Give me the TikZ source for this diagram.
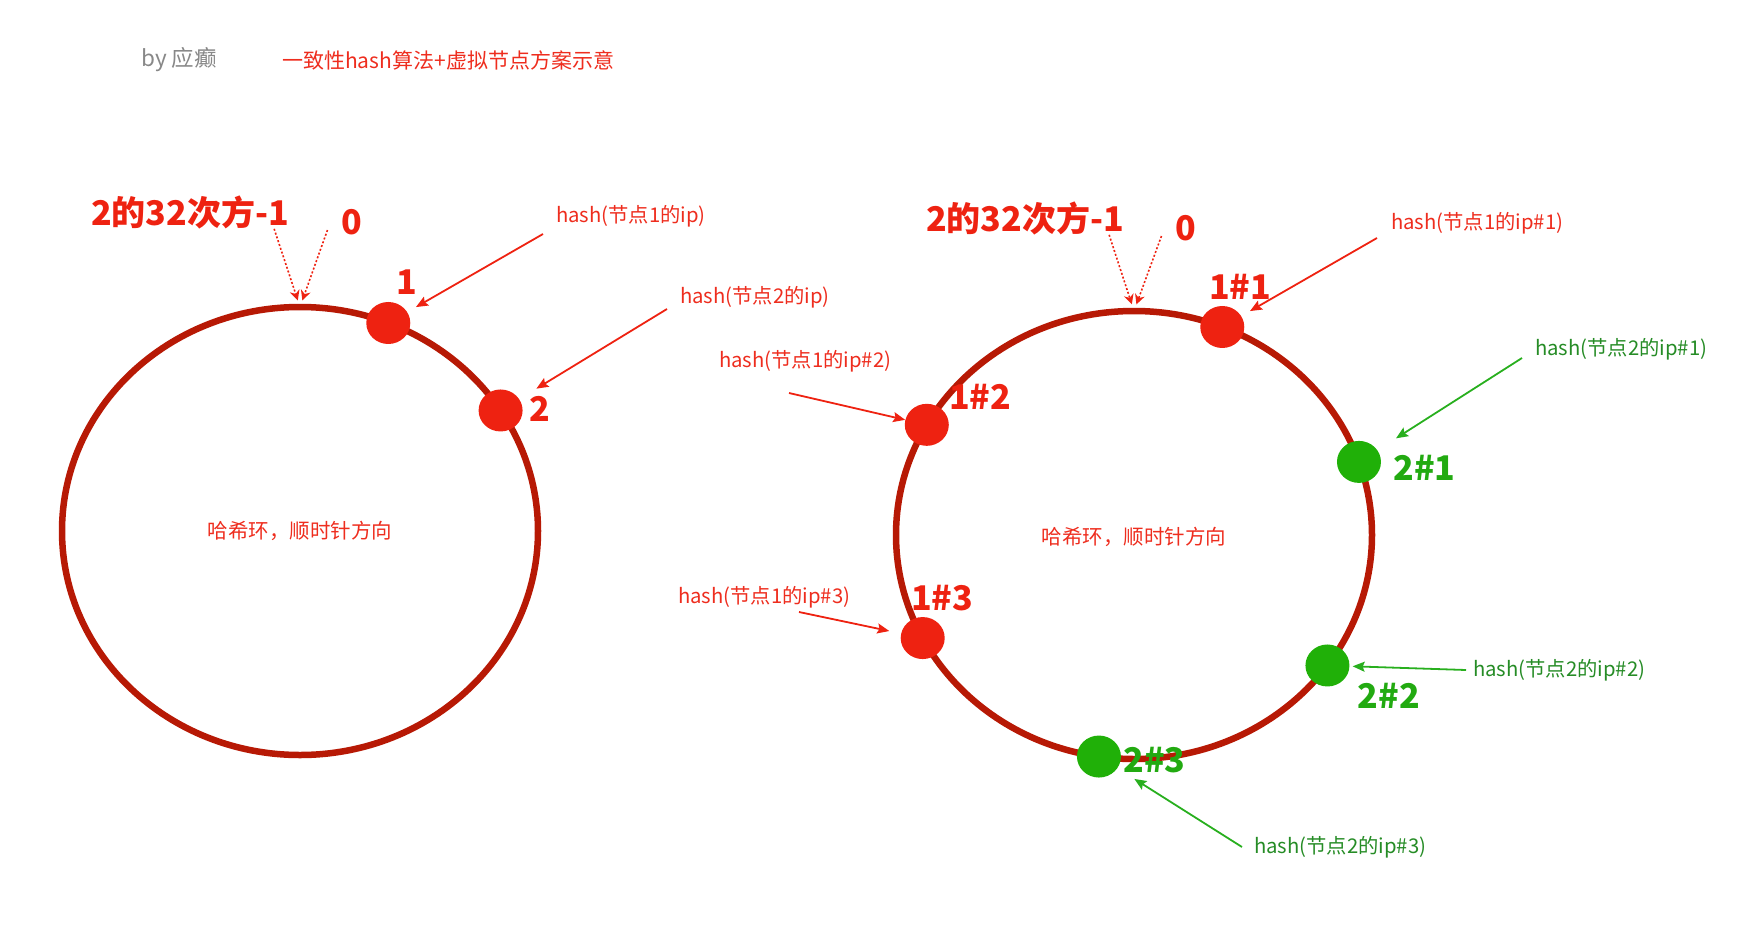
\documentclass[tikz,border=0pt]{standalone}
\usepackage{fontspec}
\setmainfont{Noto Sans CJK SC}
\usetikzlibrary{arrows.meta,positioning,shapes.geometric}

\definecolor{cRing}{RGB}{183,25,5}
\definecolor{cDotRed}{RGB}{238,34,17}
\definecolor{cDotGreen}{RGB}{32,176,8}
\definecolor{cTextRed}{RGB}{238,45,30}
\definecolor{cTextGreen}{RGB}{38,140,38}
\definecolor{cNumGreen}{RGB}{34,170,17}
\definecolor{cArrGreen}{RGB}{40,175,30}
\definecolor{cGray}{RGB}{136,136,136}

\begin{document}
\begin{tikzpicture}[
  x=1pt, y=-1pt,
  ring/.style={draw=cRing, line width=6.5pt, ellipse, minimum width=476pt, minimum height=448pt, inner sep=0pt, outer sep=0pt},
  dotred/.style={fill=cDotRed, ellipse, minimum width=44pt, minimum height=42pt, inner sep=0pt},
  dotgreen/.style={dotred, fill=cDotGreen},
  numred/.style={text=cDotRed, font=\fontsize{34}{34}\selectfont\bfseries, inner sep=0pt},
  numgreen/.style={numred, text=cNumGreen},
  hashred/.style={text=cTextRed, font=\fontsize{20.3}{20.3}\selectfont, inner sep=0pt, anchor=west},
  hashgreen/.style={hashred, text=cTextGreen},
  arrred/.style={-{Stealth[length=12pt,width=10pt,inset=2pt]}, color=cDotRed, line width=1.8pt},
  arrgreen/.style={arrred, color=cArrGreen},
  zeroarr/.style={-{Stealth[length=10pt,width=10pt]}, color=cDotRed, line width=1.6pt, dash pattern=on 2pt off 2pt}
]
\useasboundingbox (0,0) rectangle (1764,934);

% title
\node[text=cGray, font=\fontsize{22.5}{22.5}\selectfont, inner sep=0pt, anchor=west] (by) at (141,60) {by 应癫};
\node[hashred, font=\fontsize{21}{21}\selectfont] (title) at (282,60) {一致性hash算法+虚拟节点方案示意};

% left ring
\node[ring] (ringL) at (300,531) {};
\node[text=cTextRed, font=\fontsize{20.5}{20.5}\selectfont] (descL) at (300,531) {哈希环，顺时针方向};
\node[dotred] (n1) at (ringL.67.5) {};
\node[dotred] (n2) at (ringL.31) {};
\node[numred, above=7pt of n1, xshift=18.5pt] (l1) {1};
\node[numred, right=6pt of n2, yshift=2pt] (l2) {2};
\node[numred] (maxL) at (190,212) {2的32次方-1};
\node[numred] (zeroL) at (352,222) {0};
\coordinate (tmaxL) at ([shift={(-15,0)}]maxL.south east);
\coordinate (tzeroL) at ([shift={(-14,-5)}]zeroL.south west);
\draw[zeroarr, shorten >=7pt] (tmaxL) -- (ringL.north);
\draw[zeroarr, shorten >=7pt] (tzeroL) -- (ringL.north);
\node[hashred] (h1) at (556,216) {hash(节点1的ip)};
\node[hashred] (h2) at (680,297) {hash(节点2的ip)};
\coordinate (t1) at ([shift={(-13,18)}]h1.west);
\coordinate (t2) at ([shift={(-13,12)}]h2.west);
\draw[arrred, shorten >=10pt] (t1) -- (n1);
\draw[arrred, shorten >=20pt] (t2) -- (n2);

% right ring
\node[ring] (ringR) at (1134,535) {};
\node[text=cTextRed, font=\fontsize{20.5}{20.5}\selectfont] (descR) at (1134,537) {哈希环，顺时针方向};
\node[dotred] (r11) at (ringR.67.2) {};
\node[dotred] (r12) at (ringR.152.1) {};
\node[dotred] (r13) at (ringR.206.8) {};
\node[dotgreen] (r21) at (ringR.18.4) {};
\node[dotgreen] (r22) at (ringR.-34.2) {};
\node[dotgreen] (r23) at (ringR.261.5) {};
\node[numred, above=6pt of r11, xshift=18pt] (l11) {1\#1};
\node[numred, right=0pt of r12, yshift=28pt] (l12) {1\#2};
\node[numred, above=6pt of r13, xshift=19.5pt] (l13) {1\#3};
\node[numgreen, right=12pt of r21, yshift=-6pt] (l21) {2\#1};
\node[numgreen, right=8pt of r22, yshift=-30pt] (l22) {2\#2};
\node[numgreen, right=2pt of r23, yshift=-4pt] (l23) {2\#3};
\node[numred] (maxR) at (1025,218) {2的32次方-1};
\node[numred] (zeroR) at (1186,228) {0};
\coordinate (tmaxR) at ([shift={(-15,0)}]maxR.south east);
\coordinate (tzeroR) at ([shift={(-14,-5)}]zeroR.south west);
\draw[zeroarr, shorten >=7pt] (tmaxR) -- (ringR.north);
\draw[zeroarr, shorten >=7pt] (tzeroR) -- (ringR.north);
\node[hashred] (h11) at (1391,223) {hash(节点1的ip\#1)};
\node[hashred] (h12) at (719,361) {hash(节点1的ip\#2)};
\node[hashred] (h13) at (678,597) {hash(节点1的ip\#3)};
\node[hashgreen] (h21) at (1535,349) {hash(节点2的ip\#1)};
\node[hashgreen] (h22) at (1473,670) {hash(节点2的ip\#2)};
\node[hashgreen] (h23) at (1254,847) {hash(节点2的ip\#3)};
\coordinate (t11) at ([shift={(-14,15)}]h11.west);
\coordinate (t12) at ([shift={(70,32)}]h12.west);
\coordinate (t13) at ([shift={(121,15)}]h13.west);
\coordinate (t21) at ([shift={(-13,9)}]h21.west);
\coordinate (t22) at ([shift={(-7,0)}]h22.west);
\coordinate (t23) at ([shift={(-12,0)}]h23.west);
\draw[arrred, shorten >=10pt] (t11) -- (r11);
\draw[arrred] (t12) -- (r12);
\draw[arrred, shorten >=12pt] (t13) -- (r13);
\draw[arrgreen, shorten >=22pt] (t21) -- (r21);
\draw[arrgreen, shorten >=3pt] (t22) -- (r22);
\draw[arrgreen, shorten >=20pt] (t23) -- (r23);
\end{tikzpicture}
\end{document}
